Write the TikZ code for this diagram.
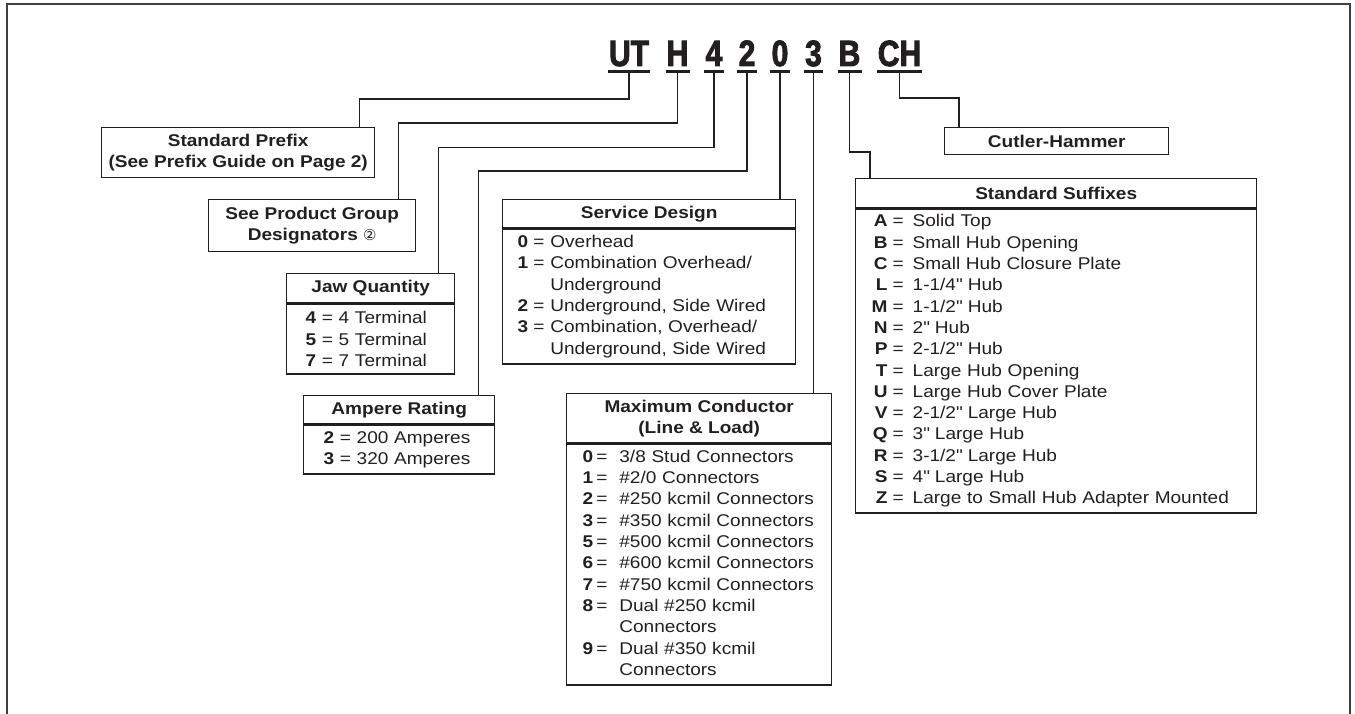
\documentclass[tikz,border=0pt]{standalone}
\usepackage{fontspec}
\setmainfont[FakeStretch=1.12]{Liberation Sans}
\newfontfamily\codefont[FakeStretch=0.82,BoldFeatures={FakeBold=2.5}]{Liberation Sans}
\newfontfamily\circfont{DejaVu Sans}
\usepackage{array}
\usepackage{tikz}
\usetikzlibrary{calc,positioning}
\definecolor{ink}{HTML}{231F20}

\begin{document}
\begin{tikzpicture}[
  x=1pt, y=-1pt,
  code/.style={
    font=\codefont\bfseries\fontsize{36.5}{36}\selectfont,
    text=ink,
    anchor=base,
    inner xsep=1pt,
    inner ysep=5.5pt,
    text depth=0pt
  },
  uline/.style={
    line width=3pt,
    ink
  },
  link/.style={
    line width=1.4pt,
    ink
  },
  note/.style={
    draw=ink,
    line width=1.4pt,
    anchor=north west,
    inner sep=0pt,
    align=center,
    text=ink,
    font=\bfseries\fontsize{17}{21}\selectfont
  },
  list/.style={
    draw=ink,
    line width=1.4pt,
    anchor=north west,
    inner ysep=0pt,
    align=left,
    text=ink,
    font=\fontsize{17}{21.3}\selectfont
  },
  frame/.style={
    line width=1.5pt,
    black!75
  }
]

\useasboundingbox (0,0) rectangle (1355,714);

% open frame
\draw[frame] (7,714) -- (7,4) -- (1350,4) -- (1350,714);

% catalog number
\node[code] (ut) at (629,66) {UT};
\node[code] (h) at (677.5,66) {H};
\node[code] (d4) at (714,66) {4};
\node[code] (d2) at (747,66) {2};
\node[code] (d0) at (780,66) {0};
\node[code] (d3) at (813.5,66) {3};
\node[code] (b) at (849.5,66) {B};
\node[code] (ch) at (899.5,66) {CH};

\foreach \c in {ut,h,d4,d2,d0,d3,b,ch}
  \draw[uline] (\c.south west) -- (\c.south east);

% plain notes
\node[note, minimum width=273pt, minimum height=50pt] (prefix) at (101,127)
  {Standard Prefix\\(See Prefix Guide on Page 2)};

\node[note, minimum width=207pt, minimum height=52pt] (prodgroup) at (208,199)
  {See Product Group\\Designators {\circfont\mdseries\fontsize{15}{15}\selectfont ②}};

\node[note, minimum width=224pt, minimum height=27pt] (cutler) at (944,127)
  {Cutler-Hammer};

% Jaw quantity
\node[note, minimum width=168pt, minimum height=29pt] (jaw) at (286,273)
  {Jaw Quantity};
\node[list, text width=130pt, inner xsep=19pt, minimum height=70pt] (jawlist)
  at (jaw.south west)
  {\textbf{4} = 4 Terminal\\\textbf{5} = 5 Terminal\\\textbf{7} = 7 Terminal};

% Ampere rating
\node[note, minimum width=191pt, minimum height=28pt] (amp) at (303,395)
  {Ampere Rating};
\node[list, text width=151pt, inner xsep=20pt, minimum height=49pt] (amplist)
  at (amp.south west)
  {\textbf{2} = 200 Amperes\\\textbf{3} = 320 Amperes};

% Service design
\node[note, minimum width=293pt, minimum height=28pt] (service) at (502,199)
  {Service Design};
\node[list, text width=263pt, inner xsep=15pt, minimum height=135pt] (servicelist)
  at (service.south west)
  {\begin{tabular}{@{}>{\bfseries}r@{\hspace{5pt}}c@{\hspace{6pt}}l@{}}
    0 & = & Overhead\\
    1 & = & Combination Overhead/\\
      &   & Underground\\
    2 & = & Underground, Side Wired\\
    3 & = & Combination, Overhead/\\
      &   & Underground, Side Wired
  \end{tabular}};

% Maximum conductor
\node[note, minimum width=265pt, minimum height=49pt] (maxc) at (566,393)
  {Maximum Conductor\\(Line \& Load)};
\node[list, text width=233pt, inner xsep=16pt, minimum height=241pt] (maxclist)
  at (maxc.south west)
  {\begin{tabular}{@{}>{\bfseries}r@{\hspace{3pt}}c@{\hspace{12pt}}l@{}}
    0 & = & 3/8 Stud Connectors\\
    1 & = & \#2/0 Connectors\\
    2 & = & \#250 kcmil Connectors\\
    3 & = & \#350 kcmil Connectors\\
    5 & = & \#500 kcmil Connectors\\
    6 & = & \#600 kcmil Connectors\\
    7 & = & \#750 kcmil Connectors\\
    8 & = & Dual \#250 kcmil\\
      &   & Connectors\\
    9 & = & Dual \#350 kcmil\\
      &   & Connectors
  \end{tabular}};

% Standard suffixes
\node[note, minimum width=401pt, minimum height=29pt] (suffix) at (855,178)
  {Standard Suffixes};
\node[list, text width=369pt, inner xsep=16pt, minimum height=304pt] (suffixlist)
  at (suffix.south west)
  {\begin{tabular}{@{}>{\bfseries}r@{\hspace{5pt}}c@{\hspace{9pt}}l@{}}
    A & = & Solid Top\\
    B & = & Small Hub Opening\\
    C & = & Small Hub Closure Plate\\
    L & = & 1-1/4\textquotedbl{} Hub\\
    M & = & 1-1/2\textquotedbl{} Hub\\
    N & = & 2\textquotedbl{} Hub\\
    P & = & 2-1/2\textquotedbl{} Hub\\
    T & = & Large Hub Opening\\
    U & = & Large Hub Cover Plate\\
    V & = & 2-1/2\textquotedbl{} Large Hub\\
    Q & = & 3\textquotedbl{} Large Hub\\
    R & = & 3-1/2\textquotedbl{} Large Hub\\
    S & = & 4\textquotedbl{} Large Hub\\
    Z & = & Large to Small Hub Adapter Mounted
  \end{tabular}};

% leader lines
\draw[link] (ut.south) -- ++(0,27.5) -| ($(prefix.north east)+(-16,0)$);
\draw[link] (h.south) -- ++(0,51.5) -| ($(prodgroup.north east)+(-18,0)$);
\draw[link] (d4.south) -- ++(0,76) -| ($(jaw.north east)+(-17,0)$);
\draw[link] (d2.south) -- ++(0,99.5) -| ($(amp.north east)+(-17,0)$);
\draw[link] (d0.south) -- (d0.south |- service.north);
\draw[link] (d3.south) -- (d3.south |- maxc.north);
\draw[link] (b.south) -- ++(0,80.5) -| ($(suffix.north west)+(15,0)$);
\draw[link] (ch.south) -- ++(0,26.5) -| ($(cutler.north west)+(15,0)$);

\end{tikzpicture}
\end{document}
